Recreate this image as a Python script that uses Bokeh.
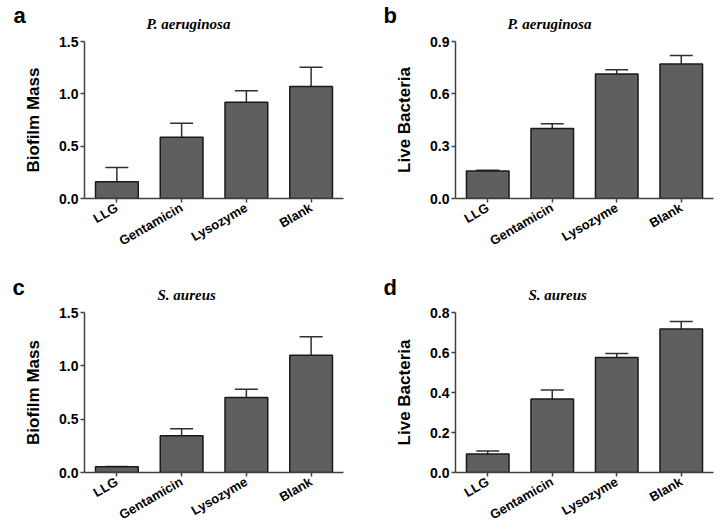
from bokeh.plotting import figure
from bokeh.models import (Range1d, FactorRange, FixedTicker, NumeralTickFormatter,
                          Label, Whisker, ColumnDataSource, TeeHead)
from bokeh.layouts import gridplot
from bokeh.embed import file_html
from bokeh.resources import INLINE
import math

treatments = ["LLG", "Gentamicin", "Lysozyme", "Blank"]

# panel a: P. aeruginosa biofilm mass
a_mean = [0.16, 0.585, 0.92, 1.07]
a_err = [0.135, 0.135, 0.11, 0.185]
a_ticks = [0.0, 0.5, 1.0, 1.5]
# panel b: P. aeruginosa live bacteria
b_mean = [0.157, 0.401, 0.713, 0.771]
b_err = [0.005, 0.028, 0.025, 0.049]
b_ticks = [0.0, 0.3, 0.6, 0.9]
# panel c: S. aureus biofilm mass
c_mean = [0.053, 0.344, 0.703, 1.10]
c_err = [0.003, 0.066, 0.078, 0.172]
c_ticks = [0.0, 0.5, 1.0, 1.5]
# panel d: S. aureus live bacteria
d_mean = [0.092, 0.367, 0.575, 0.717]
d_err = [0.016, 0.046, 0.020, 0.038]
d_ticks = [0.0, 0.2, 0.4, 0.6, 0.8]

SANS = "Liberation Sans"
SERIF = "Liberation Serif"
AXC = "#404040"


def panel(letter, species, ylabel, means, errs, ticks, fh, left, right, top, bottom,
          title_dx, letter_dx, title_dy, letter_dy):
    p = figure(width=362, height=fh, x_range=FactorRange(*treatments, range_padding=0.0),
               y_range=Range1d(0, ticks[-1]), output_backend="svg", toolbar_location=None,
               min_border_left=left, min_border_right=right, min_border_top=top,
               min_border_bottom=bottom)
    p.outline_line_color = None
    p.xgrid.visible = False
    p.ygrid.visible = False
    p.background_fill_color = "white"
    p.border_fill_color = "white"

    tops = [m + e for m, e in zip(means, errs)]
    src = ColumnDataSource(dict(x=treatments, top=means, upper=tops))
    p.vbar(x="x", top="top", width=0.66, bottom=0, source=src,
           fill_color="#5f5f5f", line_color="#1a1a1a", line_width=1.5)
    w = Whisker(base="x", lower="top", upper="upper", source=src, dimension="height",
                line_color="#303030", line_width=1.5,
                upper_head=TeeHead(size=23, line_color="#303030", line_width=1.5),
                lower_head=None)
    p.add_layout(w)

    for ax in (p.xaxis[0], p.yaxis[0]):
        ax.axis_line_color = AXC
        ax.axis_line_width = 1.5
        ax.major_tick_line_color = AXC
        ax.major_tick_line_width = 1.5
        ax.major_tick_in = 0
        ax.major_tick_out = 4
        ax.minor_tick_line_color = None
        ax.major_label_text_font = SANS
        ax.major_label_text_font_style = "bold"
        ax.major_label_text_color = "black"

    p.yaxis.major_label_text_font_size = "14px"
    p.yaxis.major_label_standoff = 2
    p.xaxis.major_label_text_font_size = "13px"
    p.xaxis.major_label_standoff = 4
    p.yaxis.ticker = FixedTicker(ticks=ticks)
    p.yaxis.formatter = NumeralTickFormatter(format="0.0")
    p.yaxis.axis_label = ylabel
    p.yaxis.axis_label_text_font = SANS
    p.yaxis.axis_label_text_font_style = "bold"
    p.yaxis.axis_label_text_font_size = "17px"
    p.yaxis.axis_label_text_color = "black"
    p.yaxis.axis_label_standoff = 13
    p.xaxis.major_label_orientation = math.pi / 6

    p.add_layout(Label(x=title_dx, y=title_dy, x_units="screen", y_units="screen",
                       text=species, text_font=SERIF, text_font_style="bold italic",
                       text_font_size="15px", text_color="black",
                       text_baseline="alphabetic", text_align="left"), "above")
    p.add_layout(Label(x=letter_dx, y=letter_dy, x_units="screen", y_units="screen",
                       text=letter, text_font=SANS, text_font_style="bold",
                       text_font_size="22px", text_color="black",
                       text_baseline="alphabetic", text_align="left"), "above")
    return p


pa = panel("a", "P. aeruginosa", "Biofilm Mass", a_mean, a_err, a_ticks, 265,
           83, 19, 38, 67, 62, -71, 18, 10)
pb = panel("b", "P. aeruginosa", "Live Bacteria", b_mean, b_err, b_ticks, 265,
           92, 11, 38, 67, 52, -72, 18, 10)
pc = panel("c", "S. aureus", "Biofilm Mass", c_mean, c_err, c_ticks, 266,
           84, 19, 47, 59, 73, -72, 18, 9)
pd_ = panel("d", "S. aureus", "Live Bacteria", d_mean, d_err, d_ticks, 266,
            93, 10, 47, 59, 73, -72, 18, 9)

grid = gridplot([[pa, pb], [pc, pd_]], toolbar_location=None)
open("out.html", "w").write(file_html(grid, INLINE))
